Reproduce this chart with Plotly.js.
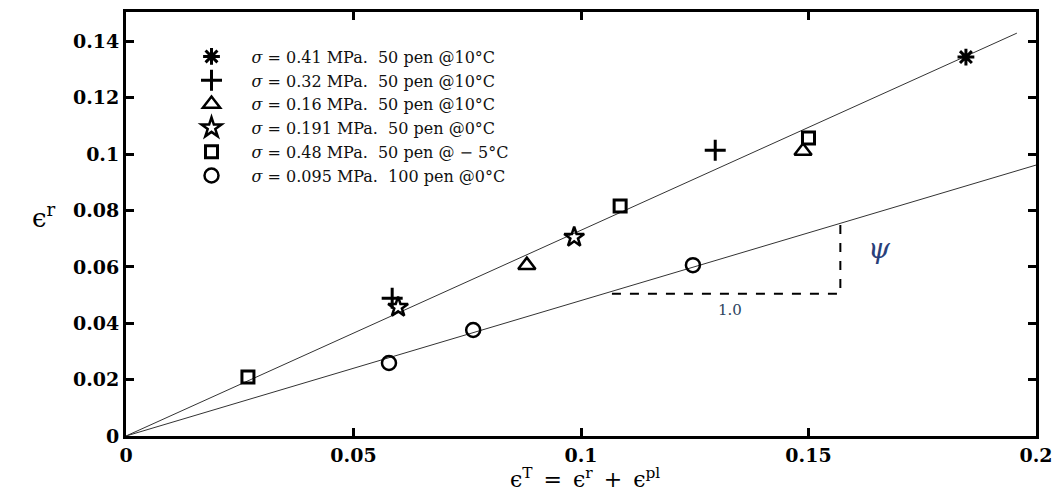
<!DOCTYPE html>
<html>
<head>
<meta charset="utf-8">
<script src="https://cdn.plot.ly/plotly-3.0.1.min.js"></script>
<style>html,body{margin:0;padding:0;background:#fff;}#chart{width:1062px;height:493px;}</style>
</head>
<body>
<div id="chart"></div>
<script>
// Series data (total strain eT, recoverable strain er)
const s041_x = [0.1846];            const s041_y = [0.1344];
const s032_x = [0.0585, 0.1295];    const s032_y = [0.0489, 0.1014];
const s016_x = [0.0881, 0.1488];    const s016_y = [0.0606, 0.1011];
const s0191_x = [0.0598, 0.0985];   const s0191_y = [0.0457, 0.0705];
const s048_x = [0.0268, 0.1086, 0.1500]; const s048_y = [0.0209, 0.0816, 0.1057];
const s0095_x = [0.0578, 0.0763, 0.1246]; const s0095_y = [0.0259, 0.0376, 0.0606];

// Fitted lines through origin
const fitUpper_x = [0, 0.1958]; const fitUpper_y = [0, 0.1429];
const fitLower_x = [0, 0.2];    const fitLower_y = [0, 0.0961];

// Slope triangle (dashed)
const slope_x = [0.1068, 0.157, 0.157]; const slope_y = [0.0505, 0.0505, 0.0752];

const seriesNames = [
  '<i>σ</i> = 0.41 MPa.  50 pen @10°C',
  '<i>σ</i> = 0.32 MPa.  50 pen @10°C',
  '<i>σ</i> = 0.16 MPa.  50 pen @10°C',
  '<i>σ</i> = 0.191 MPa.  50 pen @0°C',
  '<i>σ</i> = 0.48 MPa.  50 pen @ − 5°C',
  '<i>σ</i> = 0.095 MPa.  100 pen @0°C'
];

const xTickVals = [0, 0.05, 0.1, 0.15, 0.2];
const xTickText = ['0', '0.05', '0.1', '0.15', '0.2'];
const yTickVals = [0, 0.02, 0.04, 0.06, 0.08, 0.1, 0.12, 0.14];
const yTickText = ['0', '0.02', '0.04', '0.06', '0.08', '0.1', '0.12', '0.14'];

const serif = 'DejaVu Serif, Liberation Serif, serif';

function mk(x, y, name, symbol, size, lw) {
  return {x: x, y: y, name: name, type: 'scatter', mode: 'markers',
    marker: {symbol: symbol, size: size, color: '#000', line: {color: '#000', width: lw}}};
}
function ln(x, y, dash, w, col) {
  return {x: x, y: y, type: 'scatter', mode: 'lines', showlegend: false, hoverinfo: 'skip',
    line: {color: col, width: w, dash: dash}};
}

const traces = [
  ln(fitUpper_x, fitUpper_y, 'solid', 1, '#333'),
  ln(fitLower_x, fitLower_y, 'solid', 1, '#333'),
  ln(slope_x, slope_y, 'dash', 2, '#000'),
  mk(s041_x, s041_y, seriesNames[0], 'asterisk-open', 14, 3),
  mk(s032_x, s032_y, seriesNames[1], 'cross-thin-open', 15, 3),
  mk(s016_x, s016_y, seriesNames[2], 'triangle-up-open', 15, 2.5),
  mk(s0191_x, s0191_y, seriesNames[3], 'star-open', 15, 2.5),
  mk(s048_x, s048_y, seriesNames[4], 'square-open', 12, 3),
  mk(s0095_x, s0095_y, seriesNames[5], 'circle-open', 14, 2.5)
];

const axisCommon = {
  showgrid: false, zeroline: false, showline: true, linecolor: '#000', linewidth: 3,
  mirror: 'ticks', ticks: 'inside', ticklen: 8, tickwidth: 3, tickcolor: '#000',
  tickfont: {family: serif, size: 19, color: '#000', weight: 'bold'}
};

const layout = {
  width: 1062, height: 493,
  margin: {l: 126, r: 26, t: 12, b: 57},
  paper_bgcolor: '#fff', plot_bgcolor: '#fff',
  showlegend: true,
  legend: {x: 0.05, y: 0.935, xanchor: 'left', yanchor: 'top', bgcolor: 'rgba(0,0,0,0)',
    font: {family: serif, size: 16, color: '#111'}, itemwidth: 70, tracegroupgap: 0},
  xaxis: Object.assign({}, axisCommon, {range: [0, 0.2], tickvals: xTickVals, ticktext: xTickText}),
  yaxis: Object.assign({}, axisCommon, {range: [0, 0.1504], tickvals: yTickVals, ticktext: yTickText}),
  annotations: [
    {x: 0.504, y: -0.1, xref: 'paper', yref: 'paper', yanchor: 'middle',
      text: 'ϵ<sup>T</sup>\u2002=\u2002ϵ<sup>r</sup>\u2002+\u2002ϵ<sup>pl</sup>', showarrow: false,
      font: {family: serif, size: 22, color: '#000'}},
    {x: -0.105, y: 0.52, xref: 'paper', yref: 'paper', text: 'ϵ<sup>r</sup>', showarrow: false,
      font: {family: serif, size: 26, color: '#000'}},
    {x: 0.1327, y: 0.0447, xref: 'x', yref: 'y', text: '1.0', showarrow: false,
      font: {family: serif, size: 15, color: '#2d4460'}},
    {x: 0.1657, y: 0.0665, xref: 'x', yref: 'y', text: '<i>ψ</i>', showarrow: false,
      font: {family: serif, size: 28, color: '#2a3f7a'}}
  ]
};

Plotly.newPlot('chart', traces, layout, {displayModeBar: false, staticPlot: true});
</script>
</body>
</html>
